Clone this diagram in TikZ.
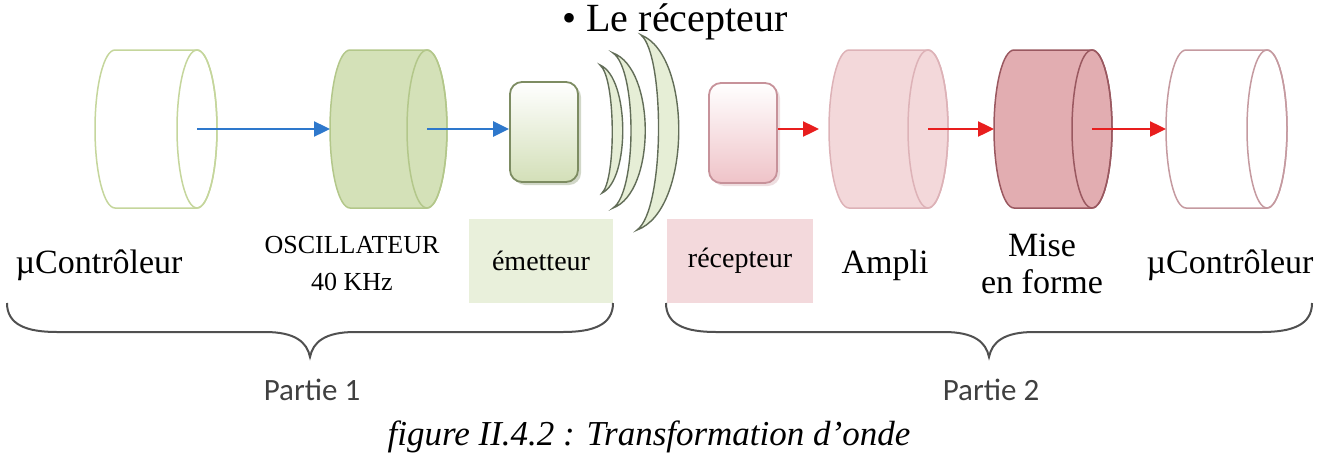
\documentclass[tikz,border=0pt]{standalone}
\usepackage{fontspec}
\setmainfont{Liberation Serif}
\newfontfamily\blockfont{Liberation Serif}
\newfontfamily\partfont{Carlito}
\usepackage{tikz}
\usetikzlibrary{arrows.meta,shadows}

\definecolor{greenline}{HTML}{C5D69C}
\definecolor{oscfill}{HTML}{D4E1B8}
\definecolor{oscline}{HTML}{B3C78A}
\definecolor{greenbox}{HTML}{E9F0DB}
\definecolor{emitline}{HTML}{7D8C62}
\definecolor{emitbot}{HTML}{D3DFB8}
\definecolor{wavefill}{HTML}{E6EED6}
\definecolor{waveline}{HTML}{626D58}
\definecolor{pinkbox}{HTML}{F3D9DC}
\definecolor{recline}{HTML}{C7929A}
\definecolor{recbot}{HTML}{EFC3C8}
\definecolor{amplifill}{HTML}{F3D8DA}
\definecolor{ampliline}{HTML}{DDB2B7}
\definecolor{misefill}{HTML}{E2ADB1}
\definecolor{miseline}{HTML}{9A5860}
\definecolor{ctrlline}{HTML}{C59AA0}
\definecolor{sigblue}{HTML}{2E78CC}
\definecolor{sigred}{HTML}{E81E1E}
\definecolor{braceline}{HTML}{505050}

\tikzset{
  cylline/.style={line width=0.75pt},
  bluearrow/.style={sigblue, line width=1.2pt, -{Triangle[length=8pt,width=7.5pt]}},
  redarrow/.style={sigred, line width=1.2pt, -{Triangle[length=8pt,width=7.5pt]}},
  sensor/.style={rounded corners=6pt, minimum width=34pt, minimum height=50pt,
    line width=0.9pt, inner sep=0pt},
  wave/.style={fill=wavefill, draw=waveline, line width=0.7pt},
  blocktext/.style={font=\fontsize{17}{18.5}\selectfont, inner sep=0pt},
  tagbox/.style={minimum width=72pt, minimum height=42pt, inner sep=0pt,
    font=\fontsize{14}{16}\selectfont},
  bracket/.style={braceline, line width=1pt},
  part/.style={font=\partfont\fontsize{15.5}{17}\selectfont, text=black!75}
}

\begin{document}
\begin{tikzpicture}[x=0.5pt,y=0.5pt]
\useasboundingbox (0,0) rectangle (1338,457);

\node[font=\fontsize{20}{22}\selectfont] (title) at (675,435) {\textbullet\ Le récepteur};

% cylinders
\foreach \name/\xl/\xr/\body/\rim in {%
  ctrlA/115/197/white/greenline,
  osc/350/427/oscfill/oscline,
  amp/849/928/amplifill/ampliline,
  mise/1014/1092/misefill/miseline,
  ctrlB/1186/1267/white/ctrlline}{
  \filldraw[fill=\body, draw=\rim, cylline] (\xl,407) -- (\xr,407)
    arc[start angle=90, end angle=-90, x radius=20, y radius=79] -- (\xl,249)
    arc[start angle=270, end angle=90, x radius=20, y radius=79] -- cycle;
  \draw[draw=\rim, cylline] (\xr,328) ellipse[x radius=20, y radius=79];
  \coordinate (\name-in) at (\xl-20,328);
  \coordinate (\name-out) at (\xr,328);
}

% transducers
\node[sensor, draw=emitline, top color=white, bottom color=emitbot,
  drop shadow={shadow xshift=1.5pt, shadow yshift=-1.5pt, fill=emitline!70}] (em) at (544,325) {};
\node[sensor, draw=recline, top color=white, bottom color=recbot,
  drop shadow={shadow xshift=1.5pt, shadow yshift=-1.5pt, fill=recline!60}] (rc) at (743,324) {};

% ultrasound waves
\draw[wave] (600,392) .. controls (630,379) and (630,277) .. (602,264)
  .. controls (616,277) and (616,379) .. cycle;
\draw[wave] (613,404) .. controls (656,388) and (656,265) .. (613,249)
  .. controls (637,265) and (637,388) .. cycle;
\draw[wave] (641,422) .. controls (692,402) and (692,247) .. (637,227)
  .. controls (665,247) and (665,402) .. cycle;

% signal path
\draw[bluearrow] (ctrlA-out) -- (osc-in);
\draw[bluearrow] (osc-out) -- (osc-out -| em.west);
\draw[redarrow, shorten >=5pt] (rc.east |- amp-in) -- (amp-in);
\draw[redarrow] (amp-out) -- (mise-in);
\draw[redarrow] (mise-out) -- (ctrlB-in);

% labels
\node[tagbox, fill=greenbox] (emtag) at (541,196) {émetteur};
\node[tagbox, fill=pinkbox, minimum width=73pt] (rctag) at (740,196) {récepteur};
\node[blocktext] (ctrlAtag) at (99,192) {µContrôleur};
\node[blocktext, font=\fontsize{13}{18.5}\selectfont, align=center] (osctag) at (352,193) {OSCILLATEUR\\40 KHz};
\node[blocktext] (amptag) at (885,192) {Ampli};
\node[blocktext, align=center] (misetag) at (1042,193) {Mise\\en forme};
\node[blocktext] (ctrlBtag) at (1230,192) {µContrôleur};

% braces
\foreach \a/\m/\b/\txt in {7/310/613/Partie 1, 666/989/1312/Partie 2}{
  \draw[bracket] (\a,154) .. controls (\a,132) and (\a+20,125) .. (\a+50,125)
    -- (\m-45,125) .. controls (\m-15,125) and (\m-3,115) .. (\m,100)
    .. controls (\m+3,115) and (\m+15,125) .. (\m+45,125)
    -- (\b-50,125) .. controls (\b-20,125) and (\b,132) .. (\b,154);
  \node[part] at (\m+2,67) {\txt};
}

\node[font=\itshape\fontsize{17.5}{20}\selectfont] (caption) at (649,20)
  {figure II.4.2 : Transformation d’onde};
\end{tikzpicture}
\end{document}
